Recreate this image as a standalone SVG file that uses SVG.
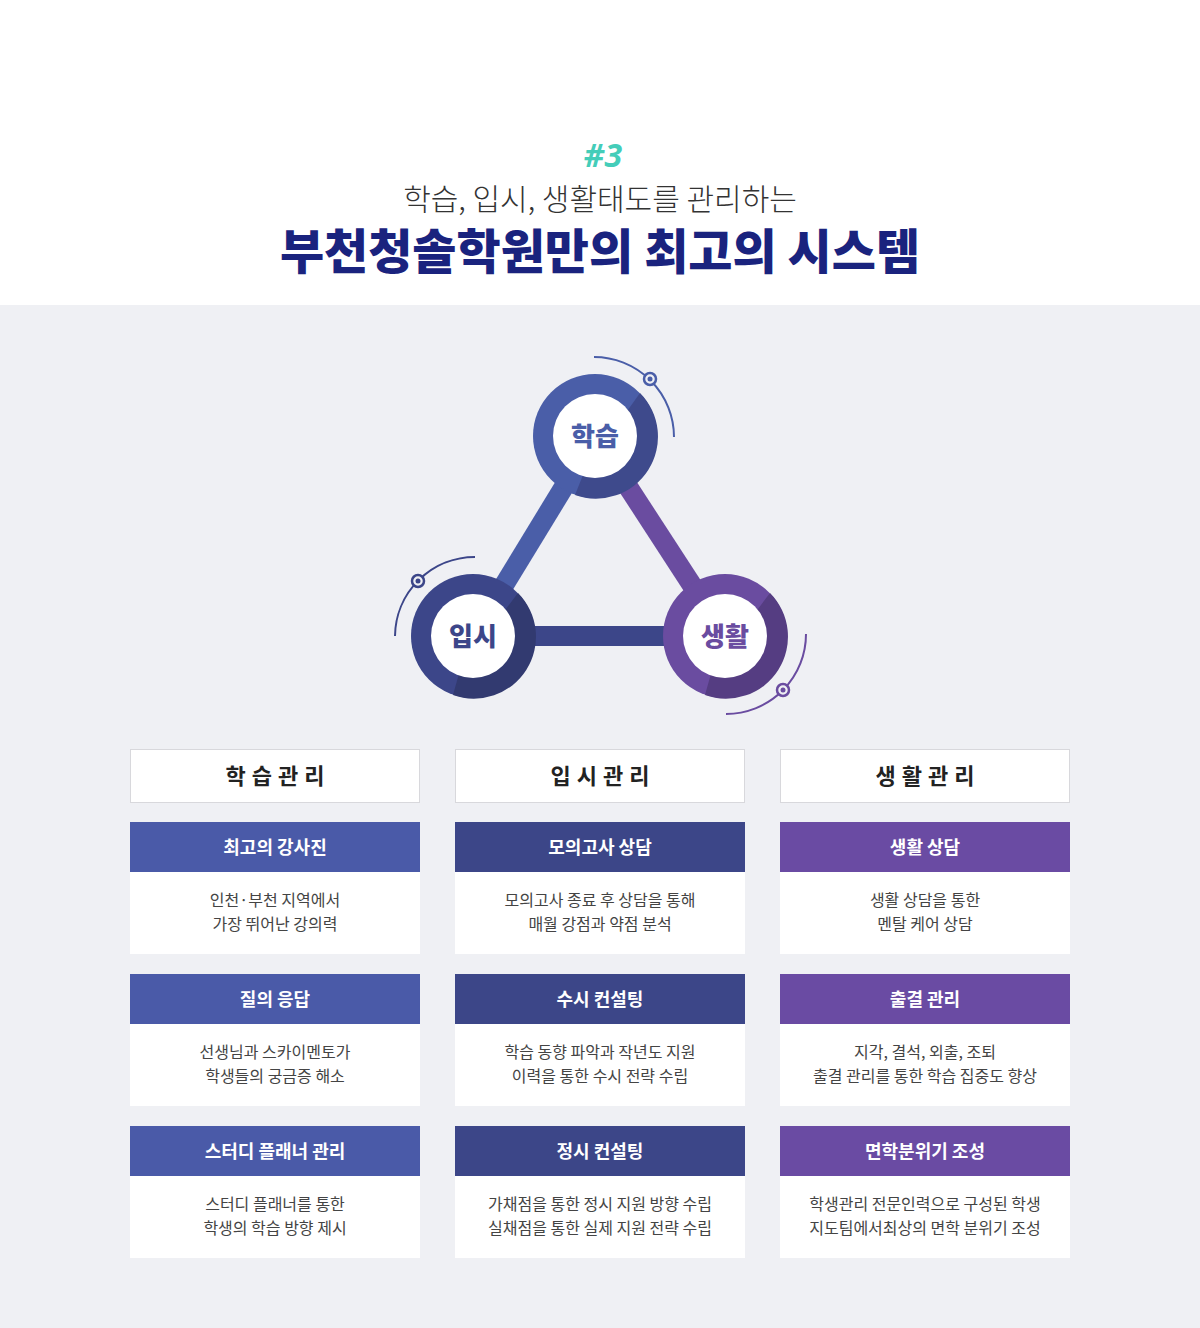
<svg xmlns="http://www.w3.org/2000/svg" width="1200" height="1328" viewBox="0 0 1200 1328">
<style>
text{font-family:"Noto Sans CJK KR","Noto Sans",sans-serif;text-anchor:middle}
.hd{font-size:22px;font-weight:700;fill:#222;letter-spacing:6px}
.ct{font-size:18px;font-weight:700;fill:#fff}
.bd{font-size:16px;fill:#444}
.hb{fill:#fff;stroke:#d8d8dc}
.bb{fill:#fff}
.c1{fill:#4a5aa8}.c2{fill:#3c4688}.c3{fill:#6a4ba3}
.arc{fill:none;stroke-width:2}
</style>
<rect width="1200" height="1328" fill="#fff"/>
<rect y="305" width="1200" height="1023" fill="#eff0f4"/>
<text x="603" y="167" font-size="32" font-weight="700" font-style="italic" fill="#44cdb9" style="font-family:'Noto Sans',sans-serif">#3</text>
<text x="600" y="210" font-size="30" font-weight="300" fill="#333">학습, 입시, 생활태도를 관리하는</text>
<text x="600" y="269" font-size="48" font-weight="900" fill="#1a237e">부천청솔학원만의 최고의 시스템</text>
<g id="connectors">
<line x1="595" y1="436" x2="473" y2="636" stroke="#4a5ea8" stroke-width="20"/>
<line x1="595" y1="436" x2="725" y2="636" stroke="#6a4ca0" stroke-width="20"/>
<line x1="473" y1="636" x2="725" y2="636" stroke="#3c4689" stroke-width="20"/>
</g>
<g id="n-study">
<circle cx="595" cy="436" r="62" fill="#4a5ea8"/>
<path d="M640 393 A62 62 0 0 1 575 495 L 585 470 Z" fill="#3e4a8c"/>
<circle cx="595" cy="436" r="42" fill="#fff"/>
<path class="arc" stroke="#4a5ea8" d="M594 357 A80 80 0 0 1 674 437"/>
<circle cx="650" cy="379" r="6" fill="#eff0f4" stroke="#4a5ea8" stroke-width="2.5"/><circle cx="650" cy="379" r="2.5" fill="#4a5ea8"/>
<text x="595" y="446" font-size="26" font-weight="900" fill="#4a5ea8">학습</text>
</g>
<g id="n-admission">
<circle cx="473" cy="636" r="62" fill="#3c4689"/>
<path d="M518 593 A62 62 0 0 1 453 695 L 460 670 Z" fill="#323a70"/>
<circle cx="473" cy="636" r="42" fill="#fff"/>
<path class="arc" stroke="#3c4689" d="M395 636 A80 80 0 0 1 475 557"/>
<circle cx="418" cy="581" r="6" fill="#eff0f4" stroke="#3c4689" stroke-width="2.5"/><circle cx="418" cy="581" r="2.5" fill="#3c4689"/>
<text x="473" y="646" font-size="26" font-weight="900" fill="#3c4689">입시</text>
</g>
<g id="n-life">
<circle cx="725" cy="636" r="62" fill="#6a4ca0"/>
<path d="M770 593 A62 62 0 0 1 705 695 L 712 670 Z" fill="#553d82"/>
<circle cx="725" cy="636" r="42" fill="#fff"/>
<path class="arc" stroke="#6a4ca0" d="M806 634 A80 80 0 0 1 726 714"/>
<circle cx="783" cy="690" r="6" fill="#eff0f4" stroke="#6a4ca0" stroke-width="2.5"/><circle cx="783" cy="690" r="2.5" fill="#6a4ca0"/>
<text x="725" y="646" font-size="26" font-weight="900" fill="#6a4ca0">생활</text>
</g>
<g id="col1">
<rect class="hb" x="130.5" y="749.5" width="289" height="53"/><text class="hd" x="278" y="784">학습관리</text>
<rect class="c1" x="130" y="822" width="290" height="50"/><rect class="bb" x="130" y="872" width="290" height="82"/>
<text class="ct" x="275" y="854">최고의 강사진</text><text class="bd" x="275" y="906">인천·부천 지역에서</text><text class="bd" x="275" y="930">가장 뛰어난 강의력</text>
<rect class="c1" x="130" y="974" width="290" height="50"/><rect class="bb" x="130" y="1024" width="290" height="82"/>
<text class="ct" x="275" y="1006">질의 응답</text><text class="bd" x="275" y="1058">선생님과 스카이멘토가</text><text class="bd" x="275" y="1082">학생들의 궁금증 해소</text>
<rect class="c1" x="130" y="1126" width="290" height="50"/><rect class="bb" x="130" y="1176" width="290" height="82"/>
<text class="ct" x="275" y="1158">스터디 플래너 관리</text><text class="bd" x="275" y="1210">스터디 플래너를 통한</text><text class="bd" x="275" y="1234">학생의 학습 방향 제시</text>
</g>
<g id="col2">
<rect class="hb" x="455.5" y="749.5" width="289" height="53"/><text class="hd" x="603" y="784">입시관리</text>
<rect class="c2" x="455" y="822" width="290" height="50"/><rect class="bb" x="455" y="872" width="290" height="82"/>
<text class="ct" x="600" y="854">모의고사 상담</text><text class="bd" x="600" y="906">모의고사 종료 후 상담을 통해</text><text class="bd" x="600" y="930">매월 강점과 약점 분석</text>
<rect class="c2" x="455" y="974" width="290" height="50"/><rect class="bb" x="455" y="1024" width="290" height="82"/>
<text class="ct" x="600" y="1006">수시 컨설팅</text><text class="bd" x="600" y="1058">학습 동향 파악과 작년도 지원</text><text class="bd" x="600" y="1082">이력을 통한 수시 전략 수립</text>
<rect class="c2" x="455" y="1126" width="290" height="50"/><rect class="bb" x="455" y="1176" width="290" height="82"/>
<text class="ct" x="600" y="1158">정시 컨설팅</text><text class="bd" x="600" y="1210">가채점을 통한 정시 지원 방향 수립</text><text class="bd" x="600" y="1234">실채점을 통한 실제 지원 전략 수립</text>
</g>
<g id="col3">
<rect class="hb" x="780.5" y="749.5" width="289" height="53"/><text class="hd" x="928" y="784">생활관리</text>
<rect class="c3" x="780" y="822" width="290" height="50"/><rect class="bb" x="780" y="872" width="290" height="82"/>
<text class="ct" x="925" y="854">생활 상담</text><text class="bd" x="925" y="906">생활 상담을 통한</text><text class="bd" x="925" y="930">멘탈 케어 상담</text>
<rect class="c3" x="780" y="974" width="290" height="50"/><rect class="bb" x="780" y="1024" width="290" height="82"/>
<text class="ct" x="925" y="1006">출결 관리</text><text class="bd" x="925" y="1058">지각, 결석, 외출, 조퇴</text><text class="bd" x="925" y="1082">출결 관리를 통한 학습 집중도 향상</text>
<rect class="c3" x="780" y="1126" width="290" height="50"/><rect class="bb" x="780" y="1176" width="290" height="82"/>
<text class="ct" x="925" y="1158">면학분위기 조성</text><text class="bd" x="925" y="1210">학생관리 전문인력으로 구성된 학생</text><text class="bd" x="925" y="1234">지도팀에서최상의 면학 분위기 조성</text>
</g>
</svg>
